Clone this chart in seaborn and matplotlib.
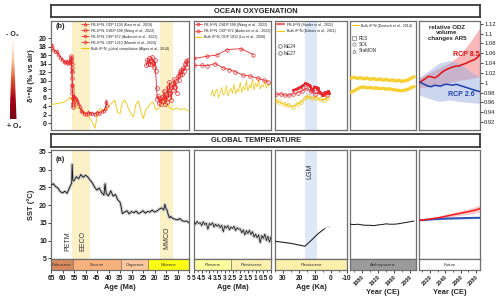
import matplotlib
matplotlib.use("Agg")
import matplotlib.pyplot as plt
import seaborn as sns
import numpy as np
from matplotlib.lines import Line2D
from matplotlib.patches import Polygon
from matplotlib.colors import LinearSegmentedColormap
from matplotlib.ticker import MultipleLocator

# ================= DATA =================
# --- Ocean oxygenation, panel 1 (Ma) ---
kast_age = [64.6, 64.0, 63.3, 62.6, 61.8, 61.0, 60.2, 59.5, 58.8, 58.2, 57.6, 57.1, 56.7, 56.4, 56.1, 55.9, 55.7, 55.5, 55.2, 54.8,
            54.3, 53.8, 53.2, 52.6, 52.0, 51.4, 50.8, 50.0, 49.0, 48.0, 47.0, 46.0, 45.0, 44.0, 43.0, 42.0, 41.4, 41.0, 40.8]
kast_val = [18.3, 17.4, 17.0, 16.9, 16.2, 15.6, 15.0, 14.6, 14.3, 14.7, 14.2, 14.4, 14.9, 14.3, 15.2, 12.5, 9.0, 6.5, 5.2, 6.4,
            6.0, 5.4, 4.8, 4.0, 3.2, 2.8, 2.4, 2.2, 2.6, 2.3, 2.5, 2.2, 2.6, 2.5, 2.8, 3.0, 3.6, 5.2, 4.3]
moretti_age = [56.3, 56.2, 56.1, 56.0, 55.95, 55.9, 55.85, 55.8, 55.75, 55.7, 55.65, 55.6, 55.55, 55.5]
moretti_val = [15.8, 15.2, 14.6, 13.8, 13.0, 12.0, 10.5, 9.0, 8.0, 7.0, 5.8, 4.8, 4.2, 3.8]
wang_m_age = [23.5, 23.1, 22.7, 22.3, 21.9, 21.5, 21.1, 20.7, 20.3, 19.9, 19.5, 19.1, 18.7, 18.3, 17.9, 17.5, 17.1, 16.7,
              16.3, 15.9, 15.5, 15.1, 14.7, 14.3, 13.9, 13.5, 13.1, 12.7, 12.3, 11.9, 11.5, 11.1, 10.7, 10.3]
wang_m_val = [13.6, 14.8, 13.9, 15.3, 13.8, 14.6, 15.6, 14.2, 13.1, 14.9, 12.2, 8.2, 5.6, 6.3, 4.8, 5.9, 4.5, 6.1,
              5.2, 7.6, 4.6, 6.9, 5.0, 8.6, 6.0, 9.6, 7.2, 5.5, 9.1, 7.8, 10.3, 8.4, 9.9, 7.1]
aud_m_age = [9.9, 9.5, 9.1, 8.7, 8.3, 7.9, 7.5, 7.1, 6.7, 6.3, 5.9, 5.5]
aud_m_val = [11.0, 10.1, 12.0, 11.2, 12.6, 11.5, 13.0, 12.3, 13.9, 14.6, 13.3, 14.9]
algeo_age = [65.0, 62.0, 59.0, 57.5, 56.7, 55.5, 53.8, 52.0, 50.2, 48.5, 47.0, 45.9, 44.8, 43.7, 42.0, 40.8, 39.0, 37.2,
             36.0, 35.0, 34.0, 32.8, 31.4, 30.0, 29.2, 28.0, 27.0, 26.0, 24.9, 23.5, 22.7, 21.5, 20.5, 19.5, 18.3, 17.2,
             16.2, 15.0, 14.0, 13.0, 11.8, 10.0, 8.9, 7.0, 5.3]
algeo_val = [4.4, 4.6, 5.0, 5.6, 6.2, 4.8, 3.8, 3.2, 2.5, 1.5, 0.2, -1.2, 2.0, 3.4, 3.0, 3.2, 4.5, 5.4,
             2.5, 2.2, 4.8, 5.4, 3.6, 2.0, 1.5, 4.5, 5.2, 3.0, 1.1, 3.5, 3.8, 4.8, 5.0, 3.2, 3.4, 4.5,
             5.4, 4.2, 4.0, 3.5, 3.2, 3.6, 3.1, 3.4, 2.9]
# --- panel 2 (Ma, Plio-Pleistocene) ---
wang_p_age = [5.0, 4.18, 3.53, 2.84, 1.95, 1.15]
wang_p_val = [15.2, 15.7, 16.0, 17.3, 17.5, 16.1]
aud_p_age = [5.0, 4.5, 4.13, 3.64, 3.1, 2.7, 2.34, 1.8, 1.36, 0.82, 0.45, 0.17]
aud_p_val = [13.6, 13.6, 13.5, 14.0, 13.0, 12.6, 12.1, 11.3, 11.1, 10.5, 10.1, 9.7]
liu_age = [3.9, 3.8, 3.7, 3.6, 3.5, 3.4, 3.3, 3.2, 3.1, 3.0, 2.9, 2.8, 2.7, 2.6, 2.5, 2.4, 2.3, 2.2, 2.1, 2.0,
           1.9, 1.8, 1.7, 1.6, 1.5, 1.4, 1.3, 1.2, 1.1, 1.0, 0.9, 0.8, 0.7, 0.6, 0.5, 0.4, 0.3, 0.2, 0.1, 0.0]
liu_val = [6.5, 7.8, 6.2, 7.5, 8.0, 6.0, 7.2, 8.4, 6.6, 7.0, 8.8, 6.4, 7.6, 8.2, 7.0, 9.2, 6.8, 8.0, 7.4, 9.6,
           7.2, 8.6, 7.8, 10.0, 7.5, 9.0, 8.2, 10.4, 7.8, 9.4, 8.5, 10.2, 8.0, 9.0, 8.6, 9.8, 8.2, 9.2, 8.8, 9.5]
# --- panel 3 (ka) ---
studer_ka = [23.5, 22.0, 20.4, 19.0, 17.3, 16.0, 14.8, 13.8, 13.1, 12.3, 11.5, 10.5, 9.4, 8.6, 7.9, 7.2, 6.5, 5.6, 4.8,
             3.8, 2.7, 1.8, 1.0]
studer_val = [7.8, 8.0, 8.3, 8.6, 8.9, 9.4, 9.3, 9.0, 8.8, 8.1, 7.8, 8.6, 8.5, 8.0, 8.2, 7.4, 7.0, 6.7, 6.6,
              7.3, 7.0, 7.6, 7.2]
me24_ka = [34.4, 31.5, 28.75, 26.0, 23.5, 20.9, 18.3, 15.6, 12.7, 10.0, 7.3, 4.8, 2.3]
me24_val = [6.75, 6.9, 6.6, 6.6, 6.9, 7.2, 7.5, 8.2, 7.5, 6.9, 7.4, 6.75, 6.6]
dubois_ka = [35.0, 32.3, 29.4, 26.7, 24.0, 21.5, 19.0, 16.3, 14.2, 12.1, 9.4, 6.9, 4.4, 2.3]
dubois_val = [5.4, 4.9, 4.5, 4.2, 3.9, 4.4, 4.9, 5.8, 6.3, 5.9, 6.0, 5.6, 5.4, 5.9]
# --- panel 4 (years CE) ---
deutsch_year = [1852, 1860, 1868, 1876, 1884, 1892, 1900, 1908, 1916, 1924, 1932, 1940, 1948, 1956, 1964, 1972, 1980,
                1988, 1996, 2004, 2010]
deutsch_upper = [10.6, 10.8, 10.5, 10.7, 10.4, 10.6, 10.3, 10.5, 10.2, 10.4, 10.1, 10.3, 10.0, 10.2, 9.9, 10.1, 9.8,
                 10.0, 10.2, 10.6, 10.9]
deutsch_lower = [7.2, 7.6, 8.0, 8.4, 8.5, 8.3, 8.4, 8.2, 8.3, 8.1, 8.2, 8.0, 8.1, 7.9, 7.8, 7.7, 7.6, 7.8, 8.0, 8.4, 8.6]
# --- panel 5 (future ODZ volume) ---
odz_year = [2006, 2010, 2014, 2018, 2022, 2026, 2030, 2034, 2038, 2042, 2046, 2050, 2054, 2058, 2062, 2066, 2070,
            2074, 2078, 2082, 2085]
rcp85_odz = [1.000, 1.004, 1.008, 1.013, 1.012, 1.010, 1.013, 1.019, 1.024, 1.027, 1.030, 1.032, 1.034, 1.034, 1.037,
             1.039, 1.042, 1.045, 1.047, 1.052, 1.057]
rcp26_odz = [1.002, 0.999, 0.996, 0.993, 0.992, 0.995, 0.994, 0.993, 0.996, 0.997, 0.996, 0.995, 0.997, 0.995, 0.993,
             0.991, 0.989, 0.987, 0.985, 0.983, 0.982]
band_year = [2006, 2019, 2032, 2045, 2058, 2071, 2085]
rcp85_odz_hi = [1.010, 1.020, 1.030, 1.040, 1.055, 1.080, 1.112]
rcp85_odz_lo = [0.990, 0.992, 0.995, 1.000, 1.005, 1.008, 1.012]
rcp26_odz_hi = [1.010, 1.025, 1.040, 1.045, 1.040, 1.025, 1.010]
rcp26_odz_lo = [0.975, 0.968, 0.962, 0.965, 0.962, 0.960, 0.958]

# --- Global temperature ---
sst_age = [65, 64, 63, 62, 61, 60, 59, 58, 57, 56.5, 56, 55.8, 55.5, 55, 54, 53, 52, 51, 50, 49, 48, 47, 46, 45, 44,
           43, 42, 41.5, 41, 40, 39, 38, 37, 36, 35, 34.5, 34, 33, 32, 31, 30, 29, 28, 27, 26, 25, 24, 23, 22, 21,
           20, 19, 18, 17, 16, 15.5, 15, 14.5, 14, 13.5, 13, 12, 11, 10, 9, 8, 7, 6, 5]
sst_val = [25.6, 26.0, 25.2, 24.8, 23.8, 23.4, 23.9, 23.3, 24.8, 25.5, 26.2, 31.5, 27.0, 26.8, 28.0, 27.4, 28.6, 27.8,
           28.4, 27.9, 27.0, 26.2, 25.0, 24.2, 24.8, 23.5, 22.8, 26.0, 23.2, 22.6, 24.0, 22.5, 23.0, 21.5, 20.8, 19.5,
           17.6, 18.0, 18.4, 17.5, 18.2, 17.8, 18.3, 17.6, 17.9, 18.4, 17.7, 18.2, 18.0, 18.6, 18.0, 18.3, 18.8, 19.2,
           18.6, 20.2, 19.0, 18.5, 17.2, 16.4, 16.8, 16.2, 16.0, 15.8, 16.2, 15.6, 15.4, 15.5, 15.0]
plio_age = [5.0, 4.9, 4.8, 4.7, 4.6, 4.5, 4.4, 4.3, 4.2, 4.1, 4.0, 3.9, 3.8, 3.7, 3.6, 3.5, 3.4, 3.3, 3.2, 3.1, 3.0,
            2.9, 2.8, 2.7, 2.6, 2.5, 2.4, 2.3, 2.2, 2.1, 2.0, 1.9, 1.8, 1.7, 1.6, 1.5, 1.4, 1.3, 1.2, 1.1, 1.0, 0.9,
            0.8, 0.7, 0.6, 0.5, 0.4, 0.3, 0.2, 0.1, 0.0]
plio_sst = [15.2, 14.6, 15.4, 14.8, 15.0, 14.2, 15.3, 14.5, 14.9, 13.2, 14.8, 14.4, 15.0, 13.8, 14.6, 14.0, 14.5, 13.6,
            14.3, 12.5, 14.1, 13.5, 14.2, 13.0, 13.8, 13.4, 14.0, 12.8, 13.6, 13.2, 13.3, 12.2, 13.0, 11.6, 12.8, 12.0,
            12.9, 11.7, 12.5, 11.0, 11.8, 10.8, 11.6, 9.4, 11.4, 10.6, 11.8, 10.0, 11.2, 9.6, 11.0]
lgm_ka = [34.8, 25.0, 16.3, 12.0, 7.9, 3.8]
lgm_sst = [9.8, 9.2, 8.4, 10.2, 12.0, 13.4]
holo_ka = [3.8, 2.5, 0.5]
holo_sst = [13.4, 13.8, 13.8]
hist_year = [1850, 1860, 1870, 1880, 1890, 1900, 1910, 1920, 1930, 1940, 1950, 1960, 1970, 1980, 1990, 2000, 2010]
hist_sst = [14.6, 14.5, 14.6, 14.4, 14.3, 14.3, 14.2, 14.4, 14.5, 14.7, 14.6, 14.6, 14.7, 14.9, 15.1, 15.3, 15.5]
fut_year = [2006, 2015, 2024, 2033, 2042, 2051, 2060, 2069, 2078, 2085]
rcp85_sst = [15.7, 15.9, 16.2, 16.5, 16.9, 17.3, 17.7, 18.1, 18.5, 19.0]
rcp85_sst_hi = [15.8, 16.1, 16.5, 16.9, 17.4, 17.9, 18.4, 18.9, 19.5, 20.1]
rcp85_sst_lo = [15.6, 15.8, 16.0, 16.2, 16.5, 16.8, 17.1, 17.4, 17.7, 18.0]
rcp26_sst = [15.7, 15.85, 16.0, 16.1, 16.2, 16.25, 16.3, 16.35, 16.4, 16.4]
rcp26_sst_hi = [15.9, 16.1, 16.25, 16.35, 16.45, 16.5, 16.55, 16.6, 16.65, 16.65]
rcp26_sst_lo = [15.5, 15.6, 15.75, 15.85, 15.95, 16.0, 16.05, 16.1, 16.15, 16.15]

epochs = [
    [(65, 55.5, "Paleocene", "#d98a5c"), (55.5, 34.5, "Eocene", "#f9b27c"),
     (34.5, 22.7, "Oligocene", "#fdc79d"), (22.7, 5, "Miocene", "#ffff14")],
    [(5, 2.58, "Pliocene", "#ffff9e"), (2.58, 0, "Pleistocene", "#fff1ad")],
    [(35, -10, "Pleistocene", "#fdf0aa")],
    [(1850, 2015, "Anthropocene", "#9b9b9b")],
    [(2006, 2085, "Future", "#ffffff")],
]
xtick_vals = [
    [65, 60, 55, 50, 45, 40, 35, 30, 25, 20, 15, 10, 5],
    [5, 4.5, 4, 3.5, 3, 2.5, 2, 1.5, 1, 0.5, 0],
    [30, 20, 10, 0, -10],
    [1880, 1920, 1960, 2000],
    [2020, 2040, 2060, 2080],
]
xtick_labels = [
    ["65", "60", "55", "50", "45", "40", "35", "30", "25", "20", "15", "10", "5"],
    ["5", "4.5", "4", "3.5", "3", "2.5", "2", "1.5", "1", "0.5", "0"],
    ["30", "20", "10", "0", "-10"],
    ["1880", "1920", "1960", "2000"],
    ["2020", "2040", "2060", "2080"],
]
xlabels = ["Age (Ma)", "Age (Ma)", "Age (Ka)", "Year (CE)", "Year (CE)"]

# ================= STYLE =================
sns.set_style("white")
plt.rcParams["font.family"] = ["Liberation Sans", "DejaVu Sans"]

W, H = 500, 304
fig = plt.figure(figsize=(W / 100, H / 100), dpi=100)


def rect(x0, y0, x1, y1):
    return [x0 / W, 1 - y1 / H, (x1 - x0) / W, (y1 - y0) / H]


FRAME = "#6f6f6f"
RED = "#e8262a"
YEL = "#f2c300"
BAND = "#fcf1c6"
LGMB = "#dfe8f8"


def frame(ax, lw=0.9):
    for s in ax.spines.values():
        s.set_color(FRAME)
        s.set_linewidth(lw)
        s.set_visible(True)
    ax.set_xticks([])
    ax.set_yticks([])
    ax.set_xlabel("")
    ax.set_ylabel("")


def sline(ax, x, y, color, lw=0.6, marker=None, ms=2.4, mfc="none", mec=None, ls="-", z=3, mew=0.5, alpha=1):
    sns.lineplot(x=np.asarray(x, float), y=np.asarray(y, float), ax=ax, color=color, lw=lw, marker=marker,
                 markersize=ms, markerfacecolor=mfc, markeredgecolor=(mec or color), markeredgewidth=mew,
                 linestyle=ls, estimator=None, sort=False, legend=False, zorder=z, alpha=alpha)


cols = [(51, 189), (194, 271), (275, 347), (350, 416), (419, 480)]
xlims = [(65, 5), (5, 0), (35, -10), (1850, 2015), (2006, 2085)]

T = [fig.add_axes(rect(c[0], 21, c[1], 130)) for c in cols]
B = [fig.add_axes(rect(c[0], 150, c[1], 259)) for c in cols]
E = [fig.add_axes(rect(c[0], 259, c[1], 270)) for c in cols]

# ---------- top row ----------
ax = T[0]
ax.axvspan(55.8, 48.0, color=BAND, lw=0, zorder=0)
ax.axvspan(17.6, 12.1, color=BAND, lw=0, zorder=0)
sline(ax, algeo_age, algeo_val, YEL, lw=0.6)
sline(ax, kast_age, kast_val, RED, lw=0.6, marker="^", ms=2.4)
sline(ax, moretti_age, moretti_val, RED, lw=0.6, marker="o", ms=2.6)
sline(ax, wang_m_age, wang_m_val, RED, lw=0.6, marker="o", ms=2.8)
sline(ax, aud_m_age, aud_m_val, RED, lw=0.6, marker="o", ms=2.8)

ax = T[1]
sline(ax, liu_age, liu_val, YEL, lw=0.5)
sline(ax, wang_p_age, wang_p_val, RED, lw=0.6, marker="h", ms=2.6)
sline(ax, aud_p_age, aud_p_val, RED, lw=0.6, marker="o", ms=2.6)

ax = T[2]
ax.axvspan(16.3, 9.0, color=LGMB, lw=0, zorder=0)
sline(ax, dubois_ka, dubois_val, YEL, lw=0.6, marker="o", ms=2.6)
sline(ax, me24_ka, me24_val, RED, lw=0.6, marker="o", ms=2.6)
sline(ax, studer_ka, studer_val, RED, lw=1.4, marker="s", ms=1.5, mfc=RED, z=4)

ax = T[3]
sline(ax, deutsch_year, deutsch_upper, "#f5cb1c", lw=2.4, alpha=0.9)
sline(ax, deutsch_year, deutsch_lower, "#f5cb1c", lw=2.4, alpha=0.9)

ax = T[4]
ax.fill_between(band_year, rcp85_odz_lo, rcp85_odz_hi, color="#f77f7f", alpha=0.55, lw=0, zorder=1)
ax.fill_between(band_year, rcp26_odz_lo, rcp26_odz_hi, color="#9aaee0", alpha=0.5, lw=0, zorder=1)
sline(ax, odz_year, rcp85_odz, "#e01010", lw=1.1, z=4)
sline(ax, odz_year, rcp26_odz, "#1f3fae", lw=1.1, z=4)

for i, ax in enumerate(T):
    frame(ax)
    ax.set_xlim(*xlims[i])
    if i < 4:
        ax.set_ylim(-1.6, 24)
    else:
        ax.set_ylim(0.904, 1.1255)

T[0].set_yticks(range(0, 21, 2))
T[0].set_yticklabels([str(v) for v in range(0, 21, 2)])
T[0].tick_params(axis="y", left=True, direction="out", length=2, width=0.6, pad=1, labelsize=5, colors="#222")
for t in T[0].get_yticklabels():
    t.set_fontweight("bold")
T[0].set_ylabel("δ¹⁵N (‰ vs air)", fontsize=5.4, fontweight="bold", labelpad=3)

odz_ticks = [0.92, 0.94, 0.96, 0.98, 1.0, 1.02, 1.04, 1.06, 1.08, 1.1, 1.12]
T[4].yaxis.tick_right()
T[4].set_yticks(odz_ticks)
T[4].set_yticklabels(["0.92", "0.94", "0.96", "0.98", "1", "1.02", "1.04", "1.06", "1.08", "1.1", "1.12"])
T[4].tick_params(axis="y", right=True, left=False, direction="out", length=2, width=0.6, pad=1, labelsize=4.2,
                 colors="#222")
T[4].text(0.455, 0.965, "relative ODZ\nvolume\nchanges AR5", transform=T[4].transAxes, ha="center", va="top",
          fontsize=4.4, fontweight="bold", linespacing=1.15)
T[4].text(0.77, 0.69, "RCP 8.5", transform=T[4].transAxes, ha="center", va="center", fontsize=5,
          fontweight="bold", color="#e01010")
T[4].text(0.69, 0.33, "RCP 2.6", transform=T[4].transAxes, ha="center", va="center", fontsize=5,
          fontweight="bold", color="#1f3fae")
T[0].text(0.03, 0.945, "(b)", transform=T[0].transAxes, ha="left", va="center", fontsize=5.4, fontweight="bold")

# legends
lp = {"size": 2.6}
def H_(color, marker=None, lw=0.5, ms=2.2, mfc="none"):
    return Line2D([], [], color=color, lw=lw, marker=marker, ms=ms, mfc=mfc, mec=color, mew=0.5)

leg = T[0].legend([H_(RED, "^"), H_(RED, "o"), H_(RED, "h"), H_(RED, "D", ms=1.8), H_(YEL, lw=0.8)],
                  ["FB-δ¹⁵N, ODP 1209 (Kast et al., 2019)", "FB-δ¹⁵N, DSDP 598 (Wang et al., 2022)",
                   "FB-δ¹⁵N, ODP 872 (Auderset et al., 2022)", "FB-δ¹⁵N, ODP 1210 (Moretti et al., 2024)",
                   "Bulk δ¹⁵N, global compilation (Algeo et al., 2014)"],
                  loc="upper left", bbox_to_anchor=(0.215, 0.985), prop=lp, frameon=False, handlelength=2.2,
                  handletextpad=0.6, labelspacing=0.55, borderaxespad=0, borderpad=0)
leg = T[1].legend([H_(RED, "h"), H_(RED, "o"), H_(YEL, lw=0.8)],
                  ["FB-δ¹⁵N, DSDP 598 (Wang et al., 2022)", "FB-δ¹⁵N, ODP 872 (Auderset et al., 2022)",
                   "Bulk δ¹⁵N, ODP 1012 (Liu et al., 2008)"],
                  loc="upper left", bbox_to_anchor=(0.01, 0.985), prop=lp, frameon=False, handlelength=2.0,
                  handletextpad=0.5, labelspacing=0.6, borderaxespad=0, borderpad=0)
leg1 = T[2].legend([H_("#f06a6a", lw=1.6), H_(YEL, lw=0.8)],
                   ["FB-δ¹⁵N (Studer et al., 2021)", "Bulk δ¹⁵N (Dubois et al., 2011)"],
                   loc="upper left", bbox_to_anchor=(0.03, 0.985), prop=lp, frameon=False, handlelength=2.0,
                   handletextpad=0.6, labelspacing=0.6, borderaxespad=0, borderpad=0)
T[2].add_artist(leg1)
T[2].legend([H_("#555", "o", lw=0, ms=2.6), H_("#555", "o", lw=0, ms=2.6)], ["ME24", "ME27"],
            loc="upper left", bbox_to_anchor=(0.03, 0.79), prop={"size": 3.4}, frameon=False, handlelength=1.0,
            handletextpad=0.4, labelspacing=0.35, borderaxespad=0, borderpad=0)
leg2 = T[3].legend([H_(YEL, lw=0.8)], ["Bulk δ¹⁵N (Deutsch et al., 2014)"], loc="upper left",
                   bbox_to_anchor=(0.03, 0.975), prop=lp, frameon=False, handlelength=2.0, handletextpad=0.6,
                   borderaxespad=0, borderpad=0)
T[3].add_artist(leg2)
T[3].legend([H_("#777", "s", lw=0, ms=2.2), H_("#777", "o", lw=0, ms=2.4), H_("#777", "^", lw=0, ms=2.4)],
            ["PES", "SOL", "StaMON"], loc="upper left", bbox_to_anchor=(0.03, 0.865), prop={"size": 3.3},
            frameon=False, handlelength=1.0, handletextpad=0.4, labelspacing=0.3, borderaxespad=0, borderpad=0)

# ---------- bottom row ----------
ax = B[0]
ax.axvspan(55.8, 48.0, color=BAND, lw=0, zorder=0)
ax.axvspan(17.6, 12.1, color=BAND, lw=0, zorder=0)
sline(ax, sst_age, sst_val, "#c9c9c9", lw=2.2, z=2)
sline(ax, sst_age, sst_val, "#111111", lw=0.6)
for txt, xx, yy in [("PETM", 57.6, 9.8), ("EECO", 51.0, 9.8), ("MMCO", 14.7, 10.8)]:
    ax.text(xx, yy, txt, rotation=90, ha="center", va="center", fontsize=5, color="#333")
ax.text(0.03, 0.91, "(a)", transform=ax.transAxes, ha="left", va="center", fontsize=5.4, fontweight="bold")

ax = B[1]
sline(ax, plio_age, plio_sst, "#cccccc", lw=2.2, z=2)
sline(ax, plio_age, plio_sst, "#111111", lw=0.5)

ax = B[2]
ax.axvspan(16.3, 9.0, color=LGMB, lw=0, zorder=0)
sline(ax, lgm_ka, lgm_sst, "#222222", lw=0.8)
sline(ax, holo_ka, holo_sst, "#bbbbbb", lw=0.6)
ax.text(13.1, 29.5, "LGM", rotation=90, ha="center", va="center", fontsize=5, color="#333")

ax = B[3]
sline(ax, hist_year, hist_sst, "#111111", lw=0.7)

ax = B[4]
ax.fill_between(fut_year, rcp85_sst_lo, rcp85_sst_hi, color="#f8a8a8", alpha=0.6, lw=0, zorder=1)
ax.fill_between(fut_year, rcp26_sst_lo, rcp26_sst_hi, color="#9aaee0", alpha=0.6, lw=0, zorder=1)
sline(ax, fut_year, rcp26_sst, "#2b52b8", lw=1.4, z=3)
sline(ax, fut_year, rcp85_sst, "#ff1a1a", lw=1.1, z=4)

for i, ax in enumerate(B):
    frame(ax)
    ax.set_xlim(*xlims[i])
    ax.set_ylim(4.8, 35.5)

B[0].set_yticks([5, 10, 15, 20, 25, 30, 35])
B[0].set_yticklabels(["5", "10", "15", "20", "25", "30", "35"])
B[0].tick_params(axis="y", left=True, direction="out", length=2, width=0.6, pad=1, labelsize=5, colors="#222")
for t in B[0].get_yticklabels():
    t.set_fontweight("bold")
B[0].set_ylabel("SST (°C)", fontsize=5.4, fontweight="bold", labelpad=3)

# ---------- epoch bars ----------
for i, ax in enumerate(E):
    ax.set_xlim(*xlims[i])
    ax.set_ylim(0, 1)
    for a, b, name, col in epochs[i]:
        ax.axvspan(a, b, color=col, ec="#666666", lw=0.4, zorder=1)
        ax.text((a + b) / 2, 0.48, name, ha="center", va="center", fontsize=3.1, color="#333", zorder=3)
    for s in ax.spines.values():
        s.set_color(FRAME)
        s.set_linewidth(0.9)
    ax.set_yticks([])
    ax.set_xticks(xtick_vals[i])
    if i >= 3:
        ax.set_xticklabels(xtick_labels[i], rotation=45, ha="right", rotation_mode="anchor")
        lsz = 4.1
    else:
        ax.set_xticklabels(xtick_labels[i])
        lsz = 4.8
    ax.tick_params(axis="x", bottom=True, direction="out", length=2.2, width=0.6, pad=1.2, labelsize=lsz,
                   colors="#222")
    ax.tick_params(axis="x", which="minor", bottom=True, direction="out", length=1.3, width=0.5)
    for t in ax.get_xticklabels():
        t.set_fontweight("bold")
    ax.set_xlabel(xlabels[i], fontsize=5.4, fontweight="bold", labelpad=1.5)

E[1].xaxis.set_minor_locator(MultipleLocator(0.25))
E[2].xaxis.set_minor_locator(MultipleLocator(5))
E[3].xaxis.set_minor_locator(MultipleLocator(20))
E[4].xaxis.set_minor_locator(MultipleLocator(10))

# ---------- header boxes ----------
for y0, y1, txt in [(5, 17, "OCEAN OXYGENATION"), (134, 147, "GLOBAL TEMPERATURE")]:
    hx = fig.add_axes(rect(51, y0, 480, y1))
    hx.set_xticks([])
    hx.set_yticks([])
    hx.set_facecolor("white")
    for s in hx.spines.values():
        s.set_color("#3a3a3a")
        s.set_linewidth(1.3)
    hx.text(0.478, 0.47, txt, transform=hx.transAxes, ha="center", va="center", fontsize=5.4, fontweight="bold")

# ---------- oxygen wedge ----------
cax = fig.add_axes(rect(9.5, 40, 16.5, 119))
cax.set_axis_off()
cmap = LinearSegmentedColormap.from_list("o2", ["#fffaf4", "#f8c7a0", "#e0552f", "#a3001a", "#7a0010"])
im = cax.imshow(np.linspace(0, 1, 200).reshape(-1, 1), aspect="auto", cmap=cmap, extent=[0, 1, 0, 1],
                origin="upper")
cax.set_xlim(0, 1)
cax.set_ylim(0, 1)
wedge = Polygon([(0.42, 1), (0.58, 1), (1, 0), (0, 0)], transform=cax.transData)
im.set_clip_path(wedge)
fig.text(12 / W, 1 - 34 / H, "- O₂", ha="center", va="center", fontsize=5, fontweight="bold")
fig.text(14 / W, 1 - 126.5 / H, "+ O₂", ha="center", va="center", fontsize=5, fontweight="bold")

fig.savefig("out.png", dpi=100)
